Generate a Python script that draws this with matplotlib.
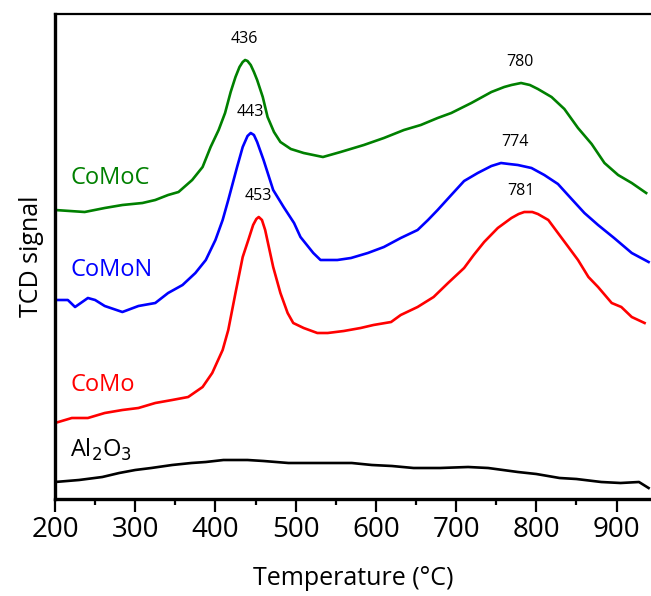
import matplotlib.pyplot as plt
from matplotlib.ticker import MultipleLocator

plt.rcParams['font.family'] = ['Open Sans', 'DejaVu Sans']

# H2-TPR profiles, signal in arbitrary units (offset traces)
t_comoc = [200, 237, 262, 284, 309, 325, 341, 354, 371, 384, 394, 404, 412, 419, 425, 430,
           434, 437, 440, 444, 448, 452, 459, 465, 473, 481, 494, 510, 534, 556, 585, 610,
           635, 656, 677, 694, 719, 744, 760, 769, 781, 792, 802, 819, 835, 852, 869, 885,
           902, 919, 937]
s_comoc = [289, 287, 291, 294, 296, 299, 304, 307, 319, 332, 352, 369, 386, 407, 422, 432,
           437, 439, 438, 434, 427, 419, 402, 382, 367, 357, 350, 346, 342, 347, 354, 361,
           369, 374, 381, 386, 396, 407, 412, 414, 416, 414, 410, 402, 390, 371, 355, 336,
           324, 316, 306]

t_comon = [200, 216, 225, 241, 250, 262, 284, 304, 325, 341, 359, 375, 388, 400, 409, 416,
           427, 434, 440, 444, 448, 452, 460, 472, 485, 498, 506, 522, 531, 552, 569, 590,
           610, 631, 652, 665, 677, 694, 710, 727, 744, 756, 766, 777, 794, 810, 827, 844,
           860, 877, 897, 919, 940]
s_comon = [199, 199, 192, 201, 199, 193, 187, 193, 196, 206, 214, 226, 239, 259, 279, 299,
           332, 352, 363, 366, 364, 357, 339, 309, 292, 276, 262, 246, 239, 239, 241, 246,
           252, 261, 269, 279, 289, 304, 318, 326, 333, 336, 335, 334, 331, 324, 315, 300,
           286, 274, 261, 246, 237]

t_como = [200, 221, 241, 262, 284, 304, 325, 346, 366, 384, 396, 409, 416, 425, 434, 441,
          447, 451, 454, 458, 462, 472, 481, 490, 497, 510, 527, 540, 560, 581, 597, 619,
          631, 652, 672, 690, 710, 722, 735, 752, 769, 778, 785, 795, 802, 815, 827, 840,
          852, 865, 877, 894, 906, 919, 935]
s_como = [76, 81, 81, 86, 89, 91, 96, 99, 102, 112, 126, 149, 169, 206, 242, 259,
          274, 280, 282, 279, 269, 232, 206, 186, 176, 171, 166, 166, 168, 171, 174, 177,
          184, 192, 202, 216, 231, 244, 257, 271, 281, 285, 287, 287, 285, 279, 266, 252,
          239, 222, 212, 196, 192, 182, 176]

t_al2o3 = [200, 230, 259, 280, 300, 320, 346, 370, 388, 410, 425, 440, 460, 491, 520, 544,
           570, 595, 620, 647, 680, 715, 740, 777, 800, 829, 850, 881, 905, 928, 940]
s_al2o3 = [17, 19, 22, 26, 29, 31, 34, 36, 37, 39, 39, 39, 38, 36, 36, 36,
           36, 34, 33, 31, 31, 32, 31, 27, 25, 21, 20, 17, 16, 17, 11]

names = ['CoMoC', 'CoMoN', 'CoMo', 'Al$_2$O$_3$']
colors = ['green', 'blue', 'red', 'black']
name_y = [321, 229, 114, 49]

# peak maxima (°C) and their heights
peaks = [(436, 439, 'green'), (443, 366, 'blue'), (453, 282, 'red'),
         (780, 416, 'green'), (774, 336, 'blue'), (781, 287, 'red')]

fig = plt.figure(figsize=(6.51, 5.96), dpi=100)
ax = fig.add_axes([55 / 651, 97 / 596, 596 / 651, 485 / 596])

for t, s, c in zip([t_comoc, t_comon, t_como, t_al2o3],
                   [s_comoc, s_comon, s_como, s_al2o3], colors):
    ax.plot(t, s, color=c, linewidth=1.9, solid_joinstyle='round')

for n, c, y in zip(names, colors, name_y):
    ax.text(219, y, n, color=c, fontsize=17, va='center', ha='left')

for p, h, c in peaks:
    ax.text(p, h + 13, str(p), fontsize=11.5, ha='center', va='bottom', color='black')

ax.set_xlim(200, 943)
ax.set_ylim(0, 485)
ax.xaxis.set_major_locator(MultipleLocator(100))
ax.xaxis.set_minor_locator(MultipleLocator(50))
ax.tick_params(axis='x', which='major', direction='out', length=9, width=1.6,
               labelsize=20, pad=3)
ax.tick_params(axis='x', which='minor', direction='out', length=4.5, width=1.6)
ax.set_yticks([])

ax.spines['right'].set_visible(False)
ax.spines['left'].set_linewidth(2.4)
ax.spines['bottom'].set_linewidth(2.4)
ax.spines['top'].set_linewidth(1.6)

ax.set_xlabel('Temperature (°C)', fontsize=18, labelpad=16)
ax.set_ylabel('TCD signal', fontsize=18, labelpad=8)

plt.savefig('out.png', dpi=100)
